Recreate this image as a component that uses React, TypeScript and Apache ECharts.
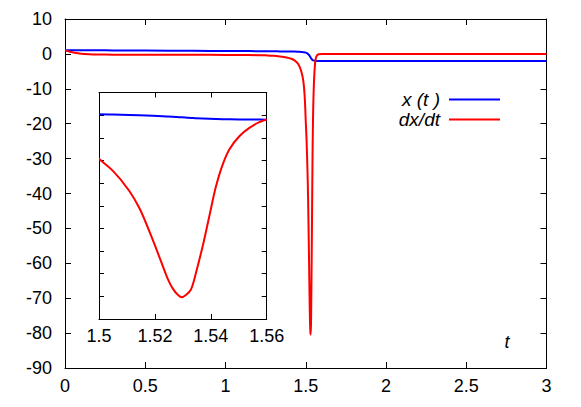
import React, { useEffect, useRef } from "react";
import * as echarts from "echarts";

// time samples
const T = [
  0, 0.03, 0.06, 0.1, 0.15, 0.2, 0.3, 0.5, 0.8, 1.0, 1.1, 1.2, 1.25, 1.3, 1.34, 1.38,
  1.41, 1.43, 1.45, 1.46, 1.47, 1.48, 1.485, 1.49, 1.495, 1.5, 1.50489, 1.51085, 1.51443,
  1.5192, 1.52278, 1.5246, 1.52636, 1.5281, 1.52957, 1.5315, 1.53291, 1.5338, 1.5347, 1.53709,
  1.53947, 1.54186, 1.54425, 1.54663, 1.55021, 1.55379, 1.55737, 1.56, 1.565, 1.57, 1.575,
  1.58, 1.6, 1.7, 2.0, 2.5, 3.0,
];
// x(t)
const X = [
  1.0, 1.02, 1.03, 1.04, 1.04, 1.03, 1.01, 0.96, 0.89, 0.84, 0.81, 0.78, 0.76, 0.74, 0.72, 0.7,
  0.68, 0.66, 0.62, 0.59, 0.56, 0.52, 0.49, 0.46, 0.42, 0.37, 0.26, 0.1, -0.02,
  -0.24, -0.46, -0.59, -0.72, -0.86, -0.98, -1.13, -1.24, -1.3, -1.37, -1.52,
  -1.64, -1.74, -1.81, -1.86, -1.91, -1.94, -1.97, -1.98, -2.0, -2.01, -2.02,
  -2.02, -2.03, -2.03, -2.03, -2.03, -2.03,
];
// dx/dt
const DXDT = [
  1.0, 0.6, 0.3, 0.05, -0.1, -0.18, -0.22, -0.23, -0.25, -0.28, -0.31, -0.36, -0.42, -0.52, -0.75, -1.05,
  -1.4, -1.85, -2.7, -3.5, -4.7, -6.5, -7.9, -10.0, -13.5, -19.3, -24.5, -33.5, -41.0,
  -55.0, -66.5, -72.3, -76.5, -79.2, -80.4, -79.0, -77.0, -73.8, -69.6, -57.9,
  -44.6, -31.4, -21.8, -15.2, -9.3, -5.6, -3.1, -1.9, -0.9, -0.45, -0.2,
  -0.08, 0, 0, 0, 0, 0,
];

const SERIES_NAMES = ["x (t )", "dx/dt"];
const COLORS = ["#0000ff", "#ff0000"];

const FONT = "Liberation Sans";

// monotone cubic (Fritsch–Butland) path through pixel points
function monotonePath(pts: number[][]): string {
  const n = pts.length;
  const h: number[] = [];
  const d: number[] = [];
  for (let k = 0; k < n - 1; k++) {
    h.push(pts[k + 1][0] - pts[k][0]);
    d.push((pts[k + 1][1] - pts[k][1]) / (pts[k + 1][0] - pts[k][0]));
  }
  const m: number[] = new Array(n).fill(0);
  m[0] = d[0];
  m[n - 1] = d[n - 2];
  for (let k = 1; k < n - 1; k++) {
    if (d[k - 1] * d[k] <= 0) m[k] = 0;
    else m[k] = (3 * (h[k - 1] + h[k])) / ((2 * h[k] + h[k - 1]) / d[k - 1] + (h[k] + 2 * h[k - 1]) / d[k]);
  }
  let s = `M${pts[0][0]},${pts[0][1]}`;
  for (let k = 0; k < n - 1; k++) {
    const x0 = pts[k][0], y0 = pts[k][1], x1 = pts[k + 1][0], y1 = pts[k + 1][1];
    const hh = h[k] / 3;
    s += `C${x0 + hh},${y0 + m[k] * hh},${x1 - hh},${y1 - m[k + 1] * hh},${x1},${y1}`;
  }
  return s;
}

export default function App() {
  const ref = useRef<HTMLDivElement>(null);
  useEffect(() => {
    if (!ref.current) return;
    const chart = echarts.init(ref.current, undefined, { renderer: "svg" });
    const xData = T.map((t, i) => [t, X[i]]);
    const dData = T.map((t, i) => [t, DXDT[i]]);

    const axisLine = { show: true, onZero: false, lineStyle: { color: "#000", width: 1 } };
    const tick = (len: number) => ({ show: true, inside: true, length: len, lineStyle: { color: "#000", width: 1 } });
    const label = { fontFamily: FONT, fontSize: 18, color: "#000" };
    const fmt = (v: number) => String(+(+v).toFixed(2));

    const mainX = { min: 0, max: 3, interval: 0.5 };
    const mainY = { min: -90, max: 10, interval: 10 };
    const inX = { min: 1.5, max: 1.56, interval: 0.02 };

    const mainSeries = [
      {
        name: SERIES_NAMES[0], type: "line", data: xData, xAxisIndex: 0, yAxisIndex: 0,
        showSymbol: false, symbol: "none", smooth: 0.3, clip: true,
        lineStyle: { color: COLORS[0], width: 2 }, itemStyle: { color: COLORS[0] },
      },
      {
        name: SERIES_NAMES[1], type: "line", data: dData, xAxisIndex: 0, yAxisIndex: 0,
        showSymbol: false, symbol: "none", smooth: 0.3, clip: true,
        lineStyle: { color: COLORS[1], width: 2 }, itemStyle: { color: COLORS[1] },
      },
    ];

    const drawIdx = T.indexOf(1.5);
    const mkInset = (name: string, ys: number[], color: string) => ({
      type: "custom",
      name,
      xAxisIndex: 2,
      yAxisIndex: 2,
      silent: true,
      data: T.map((t, i) => [t, ys[i]]),
      encode: { x: 0, y: 1 },
      itemStyle: { color },
      renderItem: (params: any, api: any) => {
        if (params.dataIndex !== drawIdx) return null;
        const pts = T.map((t, i) => api.coord([t, ys[i]]));
        const cs = params.coordSys;
        return {
          type: "group",
          clipPath: { type: "rect", shape: { x: cs.x, y: cs.y, width: cs.width, height: cs.height } },
          children: [
            {
              type: "path",
              shape: { pathData: monotonePath(pts) },
              style: { stroke: color, fill: "none", lineWidth: 2 },
            },
          ],
        };
      },
    });

    chart.setOption({
      animation: false,
      backgroundColor: "#fff",
      grid: [
        { left: 65, top: 19, width: 481.5, height: 349, containLabel: false },
        { left: 99, top: 92.5, width: 167.7, height: 226.5, containLabel: false },
      ],
      xAxis: [
        { type: "value", gridIndex: 0, position: "bottom", ...mainX, axisLine, axisTick: tick(6),
          axisLabel: { ...label, margin: 9, formatter: fmt }, splitLine: { show: false } },
        { type: "value", gridIndex: 0, position: "top", ...mainX, axisLine, axisTick: tick(6),
          axisLabel: { show: false }, splitLine: { show: false } },
        { type: "value", gridIndex: 1, position: "bottom", ...inX, axisLine, axisTick: tick(5),
          axisLabel: { ...label, margin: 8, formatter: fmt }, splitLine: { show: false } },
        { type: "value", gridIndex: 1, position: "top", ...inX, axisLine, axisTick: tick(5),
          axisLabel: { show: false }, splitLine: { show: false } },
      ],
      yAxis: [
        { type: "value", gridIndex: 0, position: "left", ...mainY, axisLine, axisTick: tick(6),
          axisLabel: { ...label, margin: 13 }, splitLine: { show: false } },
        { type: "value", gridIndex: 0, position: "right", ...mainY, axisLine, axisTick: tick(6),
          axisLabel: { show: false }, splitLine: { show: false } },
        { type: "value", gridIndex: 1, position: "left", ...mainY, axisLine, axisTick: tick(5),
          axisLabel: { show: false }, splitLine: { show: false } },
        { type: "value", gridIndex: 1, position: "right", ...mainY, axisLine, axisTick: tick(5),
          axisLabel: { show: false }, splitLine: { show: false } },
      ],
      legend: {
        data: SERIES_NAMES,
        orient: "vertical",
        align: "right",
        right: 81,
        top: 90,
        padding: 0,
        itemWidth: 51,
        itemHeight: 2,
        itemGap: 1,
        icon: "rect",
        selectedMode: false,
        textStyle: { fontFamily: FONT, fontSize: 19, fontStyle: "italic", color: "#000", lineHeight: 18, padding: [0, 4, 0, 0] },
      },
      graphic: [
        {
          type: "text", x: 507, y: 342,
          style: { text: "t", fontFamily: FONT, fontSize: 18, fontStyle: "italic", fill: "#000", align: "center", verticalAlign: "middle" },
        },
      ],
      series: [
        ...mainSeries,
        mkInset(SERIES_NAMES[0], X, COLORS[0]),
        mkInset(SERIES_NAMES[1], DXDT, COLORS[1]),
      ],
    });
    return () => chart.dispose();
  }, []);
  return <div ref={ref} style={{ position: "fixed", left: 0, top: 0, width: 581, height: 407 }} />;
}
